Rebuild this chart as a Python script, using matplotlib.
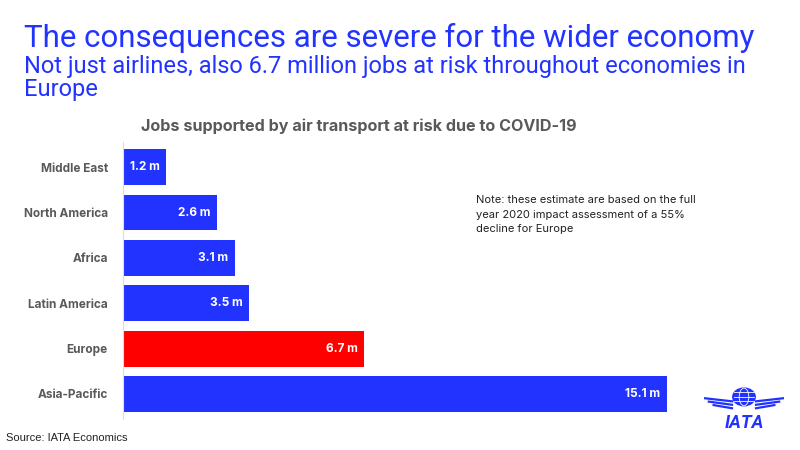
import matplotlib
matplotlib.use("Agg")
import matplotlib.pyplot as plt
from matplotlib.patches import Circle, Ellipse

# data
regions = ["Middle East", "North America", "Africa", "Latin America", "Europe", "Asia-Pacific"]
jobs_m = [1.2, 2.6, 3.1, 3.5, 6.7, 15.1]
highlight = "Europe"

BLUE = "#2233ff"
RED = "#ff0000"
GREY = "#595959"

plt.rcParams["font.family"] = ["Roboto", "DejaVu Sans"]
WIDE = ["Inter", "DejaVu Sans"]

fig = plt.figure(figsize=(8, 4.5), dpi=100)
ax = fig.add_axes([0.154, 0.069, 0.72, 0.615])

colors = [RED if r == highlight else BLUE for r in regions]
bars = ax.barh(regions, jobs_m, height=0.79, color=colors)
ax.set_ylim(5.55, -0.55)
ax.set_xlim(0, 16)

for b, v in zip(bars, jobs_m):
    ax.text(v - 0.18, b.get_y() + b.get_height() / 2, f"{v} m", ha="right", va="center",
            color="white", fontsize=8.5, fontweight="bold", family=WIDE)

for s in ["top", "right", "bottom"]:
    ax.spines[s].set_visible(False)
ax.spines["left"].set_color("#dddddd")
ax.set_xticks([])
ax.tick_params(axis="y", length=0, pad=11, labelsize=8.5, labelcolor=GREY)
for lbl in ax.get_yticklabels():
    lbl.set_fontweight("bold")
    lbl.set_family(WIDE)

# titles
fig.text(0.03, 0.915, "The consequences are severe for the wider economy", color=BLUE,
         fontsize=22.5, va="center", ha="left")
fig.text(0.03, 0.878, "Not just airlines, also 6.7 million jobs at risk throughout economies in\nEurope",
         color=BLUE, fontsize=17, va="top", ha="left", linespacing=1.0)
fig.text(0.448, 0.72, "Jobs supported by air transport at risk due to COVID-19", color=GREY,
         fontsize=11.6, fontweight="bold", ha="center", va="center", family=WIDE)

fig.text(0.595, 0.567, "Note: these estimate are based on the full\nyear 2020 impact assessment of a 55%\ndecline for Europe",
         fontsize=8, color="#222222", va="top", ha="left", linespacing=1.6, family=WIDE)

fig.text(0.008, 0.027, "Source: IATA Economics", fontsize=8, color="#222222", va="center",
         family=["Liberation Sans", "DejaVu Sans"])

# rough IATA logo
lax = fig.add_axes([0.88, 0.02, 0.1, 0.14])
lax.set_xlim(-1, 1)
lax.set_ylim(-1, 1)
lax.axis("off")
lax.add_patch(Circle((0, 0.4), 0.28, color=BLUE))
lax.add_patch(Ellipse((0, 0.4), 0.24, 0.56, fill=False, ec="white", lw=0.6))
for yy in [0.26, 0.4, 0.54]:
    lax.plot([-0.26, 0.26], [yy, yy], color="white", lw=0.6)
for i, dy in enumerate([0.0, 0.11, 0.22]):
    w = 0.72 - i * 0.12
    lax.plot([-0.28 - w, -0.3], [0.36 - dy, 0.26 - dy], color=BLUE, lw=1.6)
    lax.plot([0.28 + w, 0.3], [0.36 - dy, 0.26 - dy], color=BLUE, lw=1.6)
lax.text(0, -0.42, "IATA", color=BLUE, fontsize=13, fontweight="bold", style="italic",
         ha="center", va="center")

fig.savefig("out.png", dpi=100)
